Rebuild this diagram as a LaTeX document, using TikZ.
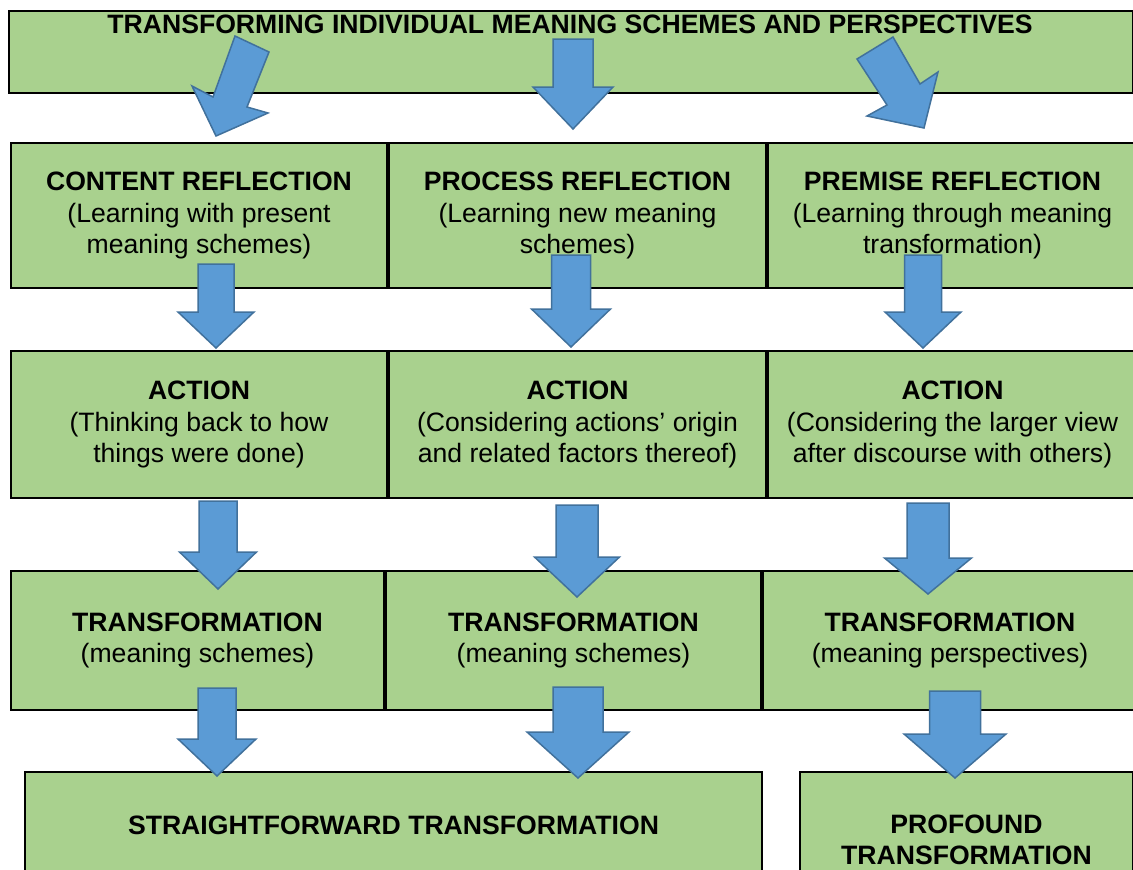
\documentclass[tikz,border=0pt]{standalone}
\usepackage{fontspec}
\setmainfont{Liberation Sans}
\usetikzlibrary{positioning}
\definecolor{kastengruen}{RGB}{169,209,142}
\definecolor{pfeilblau}{RGB}{91,155,213}
\definecolor{pfeilrand}{RGB}{65,113,156}
\tikzset{
	kasten/.style={draw=black, line width=2pt, fill=kastengruen, anchor=north west, inner sep=0pt, align=center, font=\fontsize{26.6}{31.3}\selectfont},
	zeile/.style={kasten, execute at begin node={\rule{0pt}{28pt}}},
	pfeil/.style={fill=pfeilblau, draw=pfeilrand, line width=1.5pt, line join=miter},
}
% x, oben, hals, spitze, halber schaft, halber kopf
\newcommand{\blockpfeil}[6]{%
	\filldraw[pfeil] ({#1-#5},#2) -- ({#1+#5},#2) -- ({#1+#5},#3) -- ({#1+#6},#3) -- (#1,#4) -- ({#1-#6},#3) -- ({#1-#5},#3) -- cycle;}

\begin{document}
\begin{tikzpicture}[x=1pt,y=-1pt]
		\clip (0,0) rectangle (1133,870);
		\fill[white] (0,0) rectangle (1133,870);
		
		% Titel
		\node[kasten, minimum width=1124pt, minimum height=82pt] (titel) at (8,10) {};
		\node[inner sep=0pt, font=\fontsize{26.6}{31.3}\selectfont\bfseries] (titeltext) at (570,24) {TRANSFORMING INDIVIDUAL MEANING SCHEMES AND PERSPECTIVES};
		
		% Reflexion
		\node[zeile, minimum width=376pt, minimum height=145pt] (inhalt) at (10,142) {\textbf{CONTENT REFLECTION}\\(Learning with present\\meaning schemes)};
		\node[zeile, minimum width=377pt, minimum height=145pt, right=0pt of inhalt] (prozess) {\textbf{PROCESS REFLECTION}\\(Learning new meaning\\schemes)};
		\node[zeile, minimum width=369pt, minimum height=145pt, right=0pt of prozess] (praemisse) {\textbf{PREMISE REFLECTION}\\(Learning through meaning\\transformation)};
		
		% Handlung
		\node[zeile, minimum width=376pt, minimum height=147pt] (aktion1) at (10,350) {\textbf{ACTION}\\(Thinking back to how\\things were done)};
		\node[zeile, minimum width=377pt, minimum height=147pt, right=0pt of aktion1] (aktion2) {\textbf{ACTION}\\(Considering actions' origin\\and related factors thereof)};
		\node[zeile, minimum width=369pt, minimum height=147pt, right=0pt of aktion2] (aktion3) {\textbf{ACTION}\\(Considering the larger view\\after discourse with others)};
		
		% Transformation
		\node[zeile, minimum width=373pt, minimum height=139pt] (trafo1) at (10,570) {\textbf{TRANSFORMATION}\\(meaning schemes)};
		\node[zeile, minimum width=375pt, minimum height=139pt, right=0pt of trafo1] (trafo2) {\textbf{TRANSFORMATION}\\(meaning schemes)};
		\node[zeile, minimum width=374pt, minimum height=139pt, right=0pt of trafo2] (trafo3) {\textbf{TRANSFORMATION}\\(meaning perspectives)};
		
		% Ergebnis
		\node[kasten, minimum width=737pt, minimum height=106pt] (einfach) at (24,771) {\textbf{STRAIGHTFORWARD TRANSFORMATION}};
		\node[kasten, minimum width=333pt, minimum height=136pt] (tief) at (799,771) {\textbf{PROFOUND}\\\textbf{TRANSFORMATION}};
		
		% Pfeile
		\filldraw[pfeil] (235,36) -- (269,52) -- (247,107) -- (268,113) -- (216,136) -- (192,86) -- (213,97) -- cycle;
		\filldraw[pfeil] (857,59) -- (893,37) -- (920,84) -- (938,72) -- (924,128) -- (867,116) -- (887,105) -- cycle;
		\foreach \x/\o/\h/\s/\b/\k in {573/39/87/129/20/40, 216/264/312/348/18/38, 571/255/309/347/19.5/39.5, 923/255/312/348/18.5/38, 218/501/552/589/19/38.5, 577/505/557/597/21/42.5, 928/503/558/594/21/43.5, 217/688/739/776/19/39, 578/687/732/778/25/51, 955/691/734/778/25.5/51}
		{\blockpfeil{\x}{\o}{\h}{\s}{\b}{\k}}
	\end{tikzpicture}
\end{document}
